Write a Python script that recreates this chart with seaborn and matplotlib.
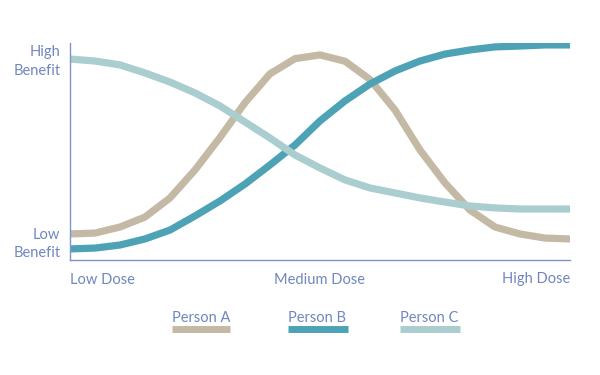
import matplotlib.pyplot as plt
from matplotlib.lines import Line2D
import pandas as pd
import seaborn as sns

# dose on a 0-100 scale (Low -> High), benefit on a 0-100 scale
dose = [0, 5, 10, 15, 20, 25, 30, 35, 40, 45, 50,
        55, 60, 65, 70, 75, 80, 85, 90, 95, 100]
person_a = [12.0, 12.4, 15.2, 19.8, 28.6, 41.5, 56.5, 72.5, 85.8, 92.8, 94.5,
            91.6, 83.2, 69.1, 50.7, 35.5, 23.0, 15.2, 12.0, 10.1, 9.7]
person_b = [5.1, 5.5, 6.9, 9.7, 13.8, 20.3, 27.2, 35.0, 43.8, 53.0, 64.1,
            73.3, 81.1, 87.1, 91.7, 94.9, 96.8, 98.2, 98.6, 99.1, 99.1]
person_c = [92.6, 91.7, 89.9, 86.2, 82.0, 77.0, 71.0, 63.6, 56.2, 48.4, 42.4,
            36.9, 33.2, 30.9, 28.6, 26.7, 24.9, 24.0, 23.5, 23.5, 23.5]

people = ['Person A', 'Person B', 'Person C']
colors = ['#C4B9A4', '#4DA3B5', '#AACDCF']
x_ticks = [0, 50, 100]
x_labels = ['Low Dose', 'Medium Dose', 'High Dose']
y_ticks = [9.2, 93.1]
y_labels = ['Low\nBenefit', 'High\nBenefit']

df = pd.DataFrame({
    'dose': dose * 3,
    'benefit': person_a + person_b + person_c,
    'person': [p for p in people for _ in dose],
})

sns.set_style('white')
plt.rcParams['font.family'] = ['Lato', 'DejaVu Sans']
txt = '#6F87BE'
axis_col = '#7D95C8'
fs = 10.5

fig = plt.figure(figsize=(6, 3.75), dpi=100)
ax = fig.add_axes([70 / 600, 115 / 375, 500 / 600, 217 / 375])

sns.lineplot(data=df, x='dose', y='benefit', hue='person',
             palette=dict(zip(people, colors)), linewidth=5.2,
             legend=False, ax=ax)
for line in ax.lines:
    line.set_solid_capstyle('butt')
    line.set_solid_joinstyle('round')

ax.set_xlim(0, 100)
ax.set_ylim(0, 100)
ax.set_xlabel('')
ax.set_ylabel('')

ax.set_xticks(x_ticks)
ax.set_xticklabels(x_labels, color=txt, fontsize=fs)
for lab, ha in zip(ax.get_xticklabels(), ['left', 'center', 'right']):
    lab.set_ha(ha)
ax.set_yticks(y_ticks)
ax.set_yticklabels(y_labels, color=txt, fontsize=fs, linespacing=1.4)
ax.tick_params(axis='y', length=0, pad=7)
ax.tick_params(axis='x', length=0, pad=9)

sns.despine(ax=ax)
for side in ['left', 'bottom']:
    ax.spines[side].set_color(axis_col)
    ax.spines[side].set_linewidth(1)

# legend: label above a short swatch
legend_x = [(172, 230), (288, 348), (400, 460)]
for (x0, x1), name, col in zip(legend_x, people, colors):
    fig.add_artist(Line2D([x0 / 600, x1 / 600], [1 - 329 / 375] * 2,
                          color=col, linewidth=5, solid_capstyle='butt'))
    fig.text(x0 / 600, 1 - 318 / 375, name, color=txt, fontsize=fs,
             ha='left', va='center')

fig.savefig('out.png', dpi=100)
